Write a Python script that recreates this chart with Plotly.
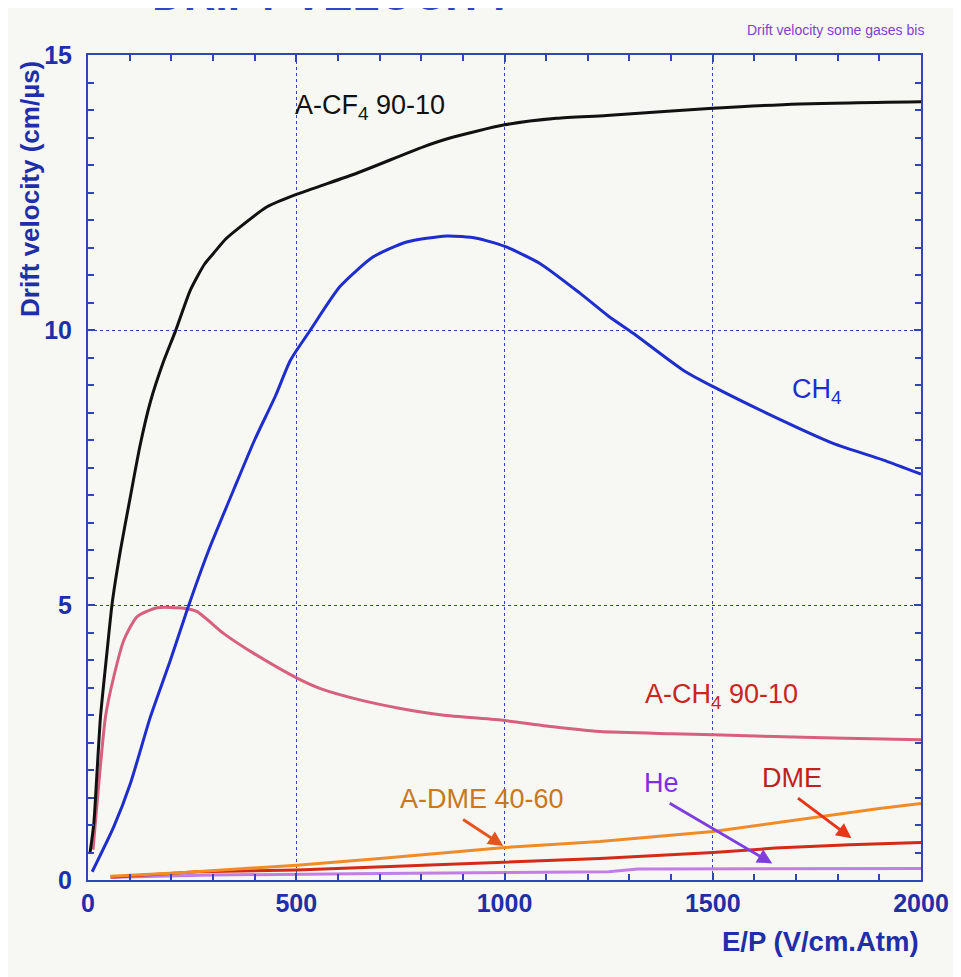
import plotly.graph_objects as go

# ---- data ----
E_cf4 = [5, 14, 22, 30, 45, 58, 78, 100, 125, 150, 180, 210, 246, 280, 302, 330, 358, 430, 502, 645, 805, 869, 1000, 1125, 1245, 1500, 1709, 2000]
v_cf4 = [0.5, 1.03, 2.0, 2.97, 4.1, 5.03, 6.0, 6.9, 7.9, 8.7, 9.4, 9.98, 10.73, 11.2, 11.4, 11.65, 11.83, 12.24, 12.47, 12.85, 13.33, 13.49, 13.73, 13.85, 13.9, 14.03, 14.11, 14.15]

E_ch4 = [10, 62, 102, 150, 198, 238, 290, 350, 400, 450, 486, 534, 605, 685, 765, 861, 933, 1001, 1085, 1181, 1250, 1309, 1429, 1501, 1629, 1789, 1908, 2000]
v_ch4 = [0.15, 0.97, 1.76, 2.97, 4.0, 4.91, 6.0, 7.1, 8.0, 8.8, 9.45, 10.0, 10.79, 11.33, 11.6, 11.71, 11.67, 11.52, 11.21, 10.67, 10.25, 9.94, 9.27, 8.97, 8.49, 7.94, 7.64, 7.38]

E_ach4 = [12, 26, 42, 62, 86, 118, 166, 230, 262, 326, 398, 502, 558, 650, 750, 850, 1000, 1100, 1229, 1400, 1501, 1789, 2000]
v_ach4 = [0.55, 1.76, 2.97, 3.7, 4.36, 4.79, 4.95, 4.94, 4.88, 4.48, 4.12, 3.67, 3.48, 3.28, 3.12, 3.0, 2.9, 2.8, 2.7, 2.66, 2.64, 2.58, 2.55]

E_adme = [54, 222, 502, 701, 1001, 1229, 1501, 1800, 1900, 2000]
v_adme = [0.07, 0.13, 0.27, 0.39, 0.59, 0.70, 0.88, 1.2, 1.30, 1.39]

E_dme = [54, 262, 502, 701, 1001, 1229, 1501, 1650, 1829, 2000]
v_dme = [0.05, 0.15, 0.18, 0.24, 0.33, 0.39, 0.50, 0.58, 0.64, 0.68]

E_he = [60, 300, 700, 1250, 1320, 2000]
v_he = [0.05, 0.09, 0.12, 0.15, 0.20, 0.21]

x_ticks = [0, 500, 1000, 1500, 2000]
y_ticks = [0, 5, 10, 15]

BLUE_AX = "#3344BB"
TICK_C = "#1F2FA8"
FONT = "Liberation Sans, Arial, sans-serif"

fig = go.Figure()
series = [
    (E_he, v_he, "#C07EE6", "He", "linear"),
    (E_dme, v_dme, "#D42A18", "DME", "linear"),
    (E_adme, v_adme, "#F08C28", "A-DME 40-60", "linear"),
    (E_ach4, v_ach4, "#D6607E", "A-CH4 90-10", "spline"),
    (E_ch4, v_ch4, "#1E2ECC", "CH4", "spline"),
    (E_cf4, v_cf4, "#111111", "A-CF4 90-10", "spline"),
]
for ex, vy, col, name, shape in series:
    fig.add_trace(go.Scatter(x=ex, y=vy, mode="lines", name=name,
                             line=dict(color=col, width=3, shape=shape, smoothing=0.6),
                             showlegend=False))

ann = []
def label(x, y, text, color):
    ann.append(dict(x=x, y=y, xref="x", yref="y", text=text, showarrow=False,
                    xanchor="left", yanchor="middle",
                    font=dict(family=FONT, size=27, color=color)))

label(493, 14.05, "A-CF<sub>4</sub> 90-10", "#111111")
label(1685, 8.9, "CH<sub>4</sub>", "#1E2ECC")
label(1332, 3.35, "A-CH<sub>4</sub> 90-10", "#C8261E")
label(744, 1.47, "A-DME 40-60", "#C8781E")
label(1329, 1.76, "He", "#7A32E0")
label(1613, 1.85, "DME", "#C02020")

def arrow(x0, y0, x1, y1, color):
    ann.append(dict(x=x1, y=y1, ax=x0, ay=y0, xref="x", yref="y", axref="x", ayref="y",
                    text="", showarrow=True, arrowhead=2, arrowsize=1.0,
                    arrowwidth=3, arrowcolor=color))

arrow(897, 1.12, 997, 0.62, "#E2561E")
arrow(1393, 1.41, 1643, 0.30, "#7E3EE0")
arrow(1701, 1.51, 1833, 0.76, "#EA3418")

# axis titles and header texts
ann.append(dict(x=-0.069, y=0.837, xref="paper", yref="paper", text="Drift velocity (cm/µs)",
                textangle=-90, showarrow=False, xanchor="center", yanchor="middle",
                font=dict(family=FONT, size=26, color=TICK_C, weight="bold")))
ann.append(dict(x=1.0, y=-0.075, xref="paper", yref="paper", text="E/P (V/cm.Atm)",
                showarrow=False, xanchor="right", yanchor="middle",
                font=dict(family=FONT, size=27.5, color=TICK_C, weight="bold")))
ann.append(dict(x=1.006, y=1.03, xref="paper", yref="paper", text="Drift velocity some gases bis",
                showarrow=False, xanchor="right", yanchor="middle",
                font=dict(family=FONT, size=14, color="#8040D0")))
ann.append(dict(x=(150 - 88) / 834, y=(880 - 21) / 825, xref="paper", yref="paper",
                text="DRIFT VELOCITY", showarrow=False, xanchor="left", yanchor="bottom",
                font=dict(family=FONT, size=44, color="#3344CC", weight="bold")))

# the page body adds an 8px offset; size the figure so the plot frame lands where the reference has it
fig.update_layout(
    width=953, height=969,
    margin=dict(l=80, r=40, t=47, b=97),
    paper_bgcolor="#F7F7F4", plot_bgcolor="#F7F7F4",
    annotations=ann,
)
axis_common = dict(
    showline=True, mirror="ticks", linecolor=BLUE_AX, linewidth=2,
    ticks="inside", ticklen=7, tickcolor=BLUE_AX, tickwidth=1.5,
    showgrid=True, gridcolor=BLUE_AX, griddash="dot", gridwidth=1,
    zeroline=False,
    tickfont=dict(family=FONT, size=25, color=TICK_C, weight="bold"),
)
fig.update_xaxes(range=[0, 2000], tickvals=x_ticks, ticktext=[str(t) for t in x_ticks],
                 minor=dict(dtick=100, tick0=0, ticks="inside", ticklen=6, tickcolor=BLUE_AX, showgrid=False),
                 **axis_common)
fig.update_yaxes(range=[0, 15], tickvals=y_ticks, ticktext=[str(t) for t in y_ticks],
                 minor=dict(dtick=0.5, tick0=0, ticks="inside", ticklen=6, tickcolor=BLUE_AX, showgrid=False),
                 ticklabelstandoff=9, **axis_common)

fig.write_html("out.html")
